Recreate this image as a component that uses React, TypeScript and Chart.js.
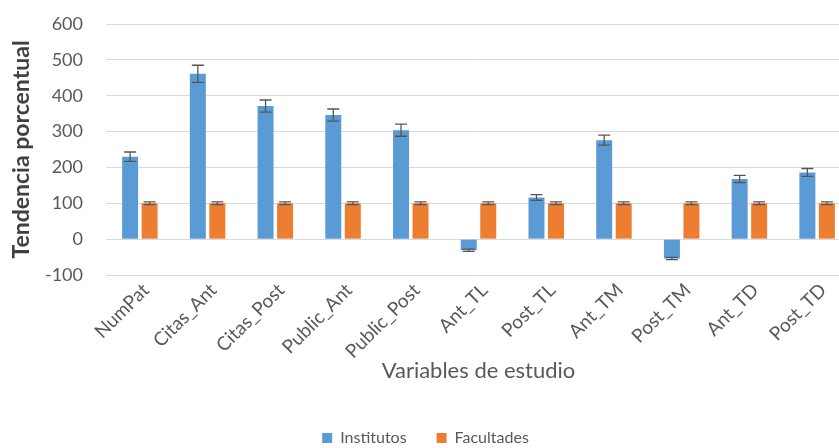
import React, { useEffect, useRef } from "react";
import { Chart, registerables } from "chart.js";

Chart.register(...registerables);

const categories = [
  "NumPat",
  "Citas_Ant",
  "Citas_Post",
  "Public_Ant",
  "Public_Post",
  "Ant_TL",
  "Post_TL",
  "Ant_TM",
  "Post_TM",
  "Ant_TD",
  "Post_TD",
];

const institutos = [230, 461, 371, 346, 304, -31, 116, 276, -54, 168, 186];
const institutosErr = [13, 24, 17, 17, 17, 3, 8, 14, 3, 10, 11];
const facultades = [100, 100, 100, 100, 100, 100, 100, 100, 100, 100, 100];
const facultadesErr = [4, 4, 4, 4, 4, 4, 4, 4, 4, 4, 4];

const yTicks = [-100, 0, 100, 200, 300, 400, 500, 600];

const FONT = "Lato, 'Open Sans', sans-serif";
const TEXT = "#595959";

const errorBarPlugin = {
  id: "errorBars",
  afterDatasetsDraw(chart: any) {
    const ctx = chart.ctx;
    const yScale = chart.scales.y;
    const errs = [institutosErr, facultadesErr];
    chart.data.datasets.forEach((ds: any, i: number) => {
      const meta = chart.getDatasetMeta(i);
      meta.data.forEach((bar: any, j: number) => {
        const v = ds.data[j] as number;
        const e = errs[i][j];
        const x = bar.x;
        const yTop = yScale.getPixelForValue(v + e);
        const yBot = yScale.getPixelForValue(v - e);
        const cap = 6;
        ctx.save();
        ctx.strokeStyle = "#555555";
        ctx.lineWidth = 1.3;
        ctx.beginPath();
        ctx.moveTo(x, yTop);
        ctx.lineTo(x, yBot);
        ctx.moveTo(x - cap, yTop);
        ctx.lineTo(x + cap, yTop);
        ctx.moveTo(x - cap, yBot);
        ctx.lineTo(x + cap, yBot);
        ctx.stroke();
        ctx.restore();
      });
    });
  },
};

const BOTTOM_PAD = -8;
const CANVAS_H = 448;
const AREA_BOTTOM = 275;

export default function App() {
  const canvasRef = useRef<HTMLCanvasElement | null>(null);

  useEffect(() => {
    if (!canvasRef.current) return;
    const chart = new Chart(canvasRef.current, {
      type: "bar",
      data: {
        labels: categories,
        datasets: [
          {
            label: "Institutos",
            data: institutos,
            backgroundColor: "#5B9BD5",
            categoryPercentage: 0.576,
            barPercentage: 0.82,
          },
          {
            label: "Facultades",
            data: facultades,
            backgroundColor: "#ED7D31",
            categoryPercentage: 0.576,
            barPercentage: 0.82,
          },
        ],
      },
      options: {
        responsive: false,
        animation: false,
        devicePixelRatio: 1,
        layout: { padding: { left: 0, right: 0, top: 24, bottom: BOTTOM_PAD } },
        plugins: {
          tooltip: { enabled: false },
          legend: {
            position: "bottom",
            labels: {
              boxWidth: 10,
              boxHeight: 10,
              padding: 30,
              color: TEXT,
              font: { family: FONT, size: 16 },
            },
          },
        },
        scales: {
          x: {
            grid: { display: false, drawTicks: false },
            border: { display: false },
            afterFit: (scale: any) => {
              const lh = scale.chart.legend ? scale.chart.legend.height : 0;
              scale.height = CANVAS_H - BOTTOM_PAD - lh - AREA_BOTTOM;
            },
            ticks: {
              minRotation: 45,
              maxRotation: 45,
              autoSkip: false,
              padding: 4,
              labelOffset: 6,
              color: TEXT,
              font: { family: FONT, size: 19 },
            },
            title: {
              display: true,
              text: "Variables de estudio",
              color: TEXT,
              font: { family: FONT, size: 22 },
              padding: { top: 0, bottom: 16 },
            },
          },
          y: {
            min: -100,
            max: 600,
            afterBuildTicks: (scale: any) => {
              scale.ticks = yTicks.map((v) => ({ value: v }));
            },
            afterFit: (scale: any) => {
              scale.width = 106;
            },
            grid: {
              color: "#d9d9d9",
              lineWidth: 1,
              drawTicks: true,
              tickLength: 20,
              tickColor: "rgba(0,0,0,0)",
            },
            border: { display: false },
            ticks: {
              padding: 3,
              color: TEXT,
              font: { family: FONT, size: 18 },
            },
            title: {
              display: true,
              text: "Tendencia porcentual",
              color: "#404040",
              font: { family: FONT, size: 23, weight: "bold" },
              padding: { top: 8, bottom: 0 },
            },
          },
        },
      },
      plugins: [errorBarPlugin],
    } as any);
    return () => chart.destroy();
  }, []);

  return (
    <div
      style={{
        position: "fixed",
        left: 0,
        top: 0,
        width: 839,
        height: 448,
        overflow: "hidden",
        background: "#fff",
      }}
    >
      <canvas
        ref={canvasRef}
        width={851}
        height={448}
        style={{ width: 851, height: 448, display: "block" }}
      />
    </div>
  );
}
